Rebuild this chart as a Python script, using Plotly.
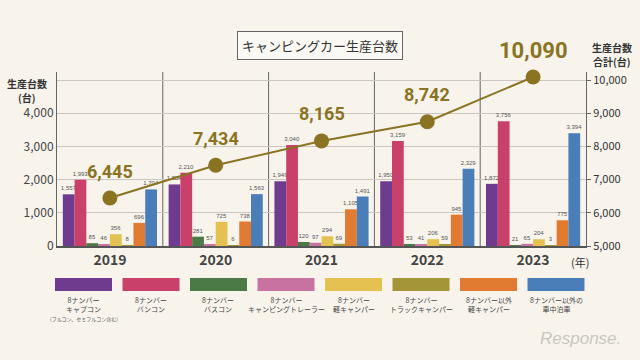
import plotly.graph_objects as go

years = ["2019", "2020", "2021", "2022", "2023"]
series_names = ["8ナンバー キャブコン", "8ナンバー バンコン", "8ナンバー バスコン",
                "8ナンバー キャンピングトレーラー", "8ナンバー 軽キャンパー",
                "8ナンバー トラックキャンパー", "8ナンバー以外 軽キャンパー",
                "8ナンバー以外の車中泊車"]
cabcon = [1557, 1854, 1949, 1950, 1872]
bancon = [1993, 2210, 3040, 3159, 3756]
buscon = [85, 281, 120, 53, 21]
trailer = [46, 57, 97, 41, 65]
kei8 = [356, 725, 294, 206, 204]
truck = [8, 6, 69, 59, 3]
kei_other = [696, 738, 1105, 945, 775]
shachuhaku = [1704, 1563, 1491, 2329, 3394]
totals = [6445, 7434, 8165, 8742, 10090]
total_labels = ["6,445", "7,434", "8,165", "8,742", "10,090"]
left_ticks = [0, 1000, 2000, 3000, 4000, 5000]
left_ticktext = ["0", "1,000", "2,000", "3,000", "4,000", ""]
right_ticks = [5000, 6000, 7000, 8000, 9000, 10000]
right_ticktext = ["5,000", "6,000", "7,000", "8,000", "9,000", "10,000"]
legend_line1 = ["8ナンバー", "8ナンバー", "8ナンバー", "8ナンバー", "8ナンバー",
                "8ナンバー", "8ナンバー以外", "8ナンバー以外の"]
legend_line2 = ["キャブコン", "バンコン", "バスコン", "キャンピングトレーラー",
                "軽キャンパー", "トラックキャンパー", "軽キャンパー", "車中泊車"]

colors = ["#6e3b8e", "#c9416b", "#4b7a46", "#c772a1", "#e4c150",
          "#a49537", "#e07b31", "#4a7eb8"]
line_color = "#8a7322"
font = "Noto Sans CJK JP"

data = [cabcon, bancon, buscon, trailer, kei8, truck, kei_other, shachuhaku]
xs = list(range(len(years)))

fig = go.Figure()
for name, vals, col in zip(series_names, data, colors):
    fig.add_trace(go.Bar(
        x=xs, y=vals, name=name, marker=dict(color=col, line=dict(width=0)),
        text=[f"{v:,}" for v in vals], textposition="outside",
        textfont=dict(size=6, color="#555", family="Liberation Sans Narrow, Liberation Sans"),
        constraintext="none", cliponaxis=False, showlegend=False))

fig.add_trace(go.Scatter(
    x=xs, y=totals, yaxis="y2", mode="lines+markers",
    line=dict(color=line_color, width=2),
    marker=dict(size=15, color=line_color), showlegend=False, cliponaxis=False))

L, R, T, B = 57, 54, 72, 114
W, H = 640, 360
pw, ph = W - L - R, H - T - B

def px_x(px):
    return (px - L) / pw

def px_y(py):
    return (H - B - py) / ph

def note(px, py, text, size, color="#333", fam=font, yanchor="middle", **kw):
    return dict(x=px_x(px), y=px_y(py), xref="paper", yref="paper", text=text,
                showarrow=False, xanchor="center", yanchor=yanchor,
                font=dict(size=size, color=color, family=fam), **kw)

annotations = []
for i, (t, lab) in enumerate(zip(totals, total_labels)):
    annotations.append(dict(
        x=i, y=t, xref="x", yref="y2", text=f"<b>{lab}</b>", showarrow=False,
        xanchor="center", yanchor="middle",
        yshift=27, font=dict(size=22 if i == 4 else 18, color=line_color, family="Roboto")))

annotations.append(note(320, 45, "キャンピングカー生産台数", 13,
                        bgcolor="#fbf9f4", bordercolor="#666", borderwidth=1, borderpad=4))
annotations.append(note(27, 83, "<b>生産台数</b>", 10))
annotations.append(note(27, 97, "<b>(台)</b>", 10))
annotations.append(note(612, 48, "<b>生産台数</b>", 10))
annotations.append(note(612, 62, "<b>合計(台)</b>", 10))
annotations.append(note(580, 262, "(年)", 11))
annotations.append(note(580, 338, "<i>Response.</i>", 17, color="#c9c6c1",
                        fam="Liberation Sans"))

shapes = []
for xv in [0.5, 1.5, 2.5, 3.5]:
    shapes.append(dict(type="line", xref="x", yref="paper", x0=xv, x1=xv, y0=0, y1=1,
                       line=dict(color="#666", width=1), layer="below"))

for i in range(8):
    x0 = 55 + 67.5 * i
    shapes.append(dict(type="rect", xref="paper", yref="paper",
                       x0=px_x(x0), x1=px_x(x0 + 57), y0=px_y(291), y1=px_y(278),
                       fillcolor=colors[i], line=dict(width=0)))
    annotations.append(note(x0 + 28.5, 293, f"{legend_line1[i]}<br>{legend_line2[i]}",
                            7, color="#444", yanchor="top"))
annotations.append(note(84, 313, "(フルコン、セミフルコン含む)", 5, color="#555",
                        yanchor="top"))

fig.update_layout(
    width=W, height=H, margin=dict(l=L, r=R, t=T, b=B, autoexpand=False),
    paper_bgcolor="#f8f4ec", plot_bgcolor="#f8f4ec",
    barmode="group", bargap=0.11, bargroupgap=0,
    font=dict(family=font, color="#333"),
    xaxis=dict(range=[-0.5, 4.5], tickvals=xs, ticktext=[f"<b>{y}</b>" for y in years],
               tickfont=dict(size=14, color="#444"), showgrid=False, zeroline=False,
               showline=True, linecolor="#555", linewidth=2, ticks="", automargin=False),
    yaxis=dict(range=[0, 5241], tickvals=left_ticks, ticktext=left_ticktext,
               tickfont=dict(size=12, color="#444"), showgrid=True, gridcolor="#cbc7c0",
               gridwidth=1, zeroline=False, showline=True, linecolor="#666", linewidth=1,
               ticks="", automargin=False),
    yaxis2=dict(range=[5000, 10241], overlaying="y", side="right",
                tickvals=right_ticks, ticktext=right_ticktext,
                tickfont=dict(size=11, color="#333"), showgrid=False, zeroline=False,
                showline=True, linecolor="#666", linewidth=1, ticks="outside",
                ticklen=4, tickcolor="#666", automargin=False),
    annotations=annotations, shapes=shapes,
)

fig.write_html("out.html", config={"displayModeBar": False},
               post_script="document.body.style.margin='0';document.body.style.overflow='hidden';")
